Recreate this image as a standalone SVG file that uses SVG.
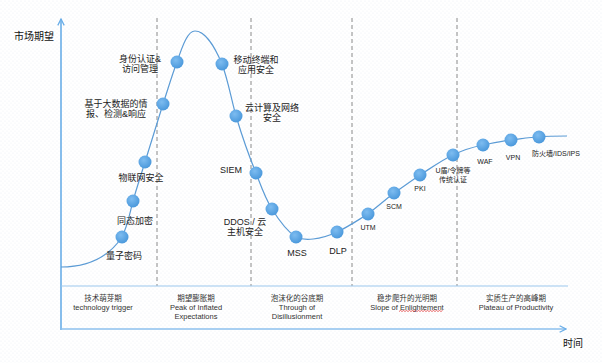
<svg xmlns="http://www.w3.org/2000/svg" width="602" height="363" viewBox="0 0 602 363">
<defs>
<pattern id="dots" width="4" height="4" patternUnits="userSpaceOnUse">
<circle cx="1" cy="1" r="0.5" fill="#e3e9ef"/>
<circle cx="3" cy="3" r="0.5" fill="#e8edf2"/>
</pattern>
<radialGradient id="ball" cx="0.4" cy="0.35" r="0.7">
<stop offset="0" stop-color="#7dbcf0"/>
<stop offset="1" stop-color="#4796da"/>
</radialGradient>
<marker id="chev" viewBox="0 0 10 10" refX="9" refY="5" markerWidth="8" markerHeight="8" orient="auto" markerUnits="userSpaceOnUse">
<path d="M1,1 L9,5 L1,9" fill="none" stroke="#6aaee8" stroke-width="1.6"/>
</marker>
</defs>
<style>
.lbl{font-family:"Liberation Sans","Noto Sans CJK SC",sans-serif;font-size:9px;fill:#222;text-anchor:middle}
.sm{font-size:7px}
.tb{font-family:"Liberation Sans","Noto Sans CJK SC",sans-serif;font-size:7.5px;fill:#333;text-anchor:middle}
.ax{font-family:"Liberation Sans","Noto Sans CJK SC",sans-serif;font-size:10px;fill:#111}
.dash{stroke:#8a8a8a;stroke-width:1;stroke-dasharray:4 3;fill:none}
.pt{fill:url(#ball)}
</style>
<rect width="602" height="363" fill="#ffffff"/>
<rect width="602" height="363" fill="url(#dots)"/>

<g id="phases">
<line class="dash" x1="157" y1="18" x2="157" y2="286"/>
<line class="dash" x1="251" y1="18" x2="251" y2="286"/>
<line class="dash" x1="352" y1="18" x2="352" y2="286"/>
<line class="dash" x1="457" y1="18" x2="457" y2="286"/>
</g>

<g id="axes">
<line x1="61" y1="330" x2="61" y2="19" stroke="#5fa8e6" stroke-width="1.5" marker-end="url(#chev)"/>
<line x1="61" y1="329" x2="566" y2="329" stroke="#8cc0ee" stroke-width="1.6" marker-end="url(#chev)"/>
<line x1="61" y1="286" x2="568" y2="286" stroke="#9cc8ee" stroke-width="1.2"/>
<text class="ax" x="14" y="40">市场期望</text>
<text class="ax" x="563" y="347">时间</text>
</g>

<g id="connectors">
<path d="M61,267 C90,267 110,255 122,237 C128,225 130,212 133,201 C137,187 141,175 145,162 C151,143 157,123 163,104 C168,89 172,75 177,62 C183,44 188,31 195,31 C205,31 215,47 222,64 C228,80 231,98 236,116 C242,136 249,156 256,173 C261,186 265,198 272,209 C280,222 288,232 296,237 C304,241 320,240 337,232 C348,227 358,220 368,214 C377,207 385,200 394,193 C403,187 411,181 420,175 C431,168 442,160 453,155 C463,150 473,147 483,145 C493,143 502,141 511,140 C520,139 530,137 539,137 C548,136 557,136 567,136" fill="none" stroke="#5b9bd5" stroke-width="1.2"/>
</g>

<g id="n-liangzi"><circle class="pt" cx="122" cy="237" r="6.5"/><text class="lbl" x="124" y="259">量子密码</text></g>
<g id="n-tongtai"><circle class="pt" cx="133" cy="201" r="6.5"/><text class="lbl" x="135" y="224">同态加密</text></g>
<g id="n-wulianwang"><circle class="pt" cx="145" cy="162" r="6.5"/><text class="lbl" x="141" y="181">物联网安全</text></g>
<g id="n-dashuju"><circle class="pt" cx="163" cy="104" r="6.5"/><text class="lbl" x="116" y="107">基于大数据的情</text><text class="lbl" x="116" y="117">报、检测&amp;响应</text></g>
<g id="n-shenfen"><circle class="pt" cx="177" cy="62" r="6.5"/><text class="lbl" x="140" y="62">身份认证&amp;</text><text class="lbl" x="140" y="72">访问管理</text></g>
<g id="n-yidong"><circle class="pt" cx="222" cy="64" r="6.5"/><text class="lbl" x="256" y="63">移动终端和</text><text class="lbl" x="256" y="73">应用安全</text></g>
<g id="n-yunjisuan"><circle class="pt" cx="236" cy="116" r="6.5"/><text class="lbl" x="272" y="111">云计算及网络</text><text class="lbl" x="272" y="121">安全</text></g>
<g id="n-siem"><circle class="pt" cx="256" cy="173" r="6.5"/><text class="lbl" x="231" y="173">SIEM</text></g>
<g id="n-ddos"><circle class="pt" cx="272" cy="209" r="6.5"/><text class="lbl" x="245" y="225">DDOS / 云</text><text class="lbl" x="245" y="235">主机安全</text></g>
<g id="n-mss"><circle class="pt" cx="296" cy="237" r="6.5"/><text class="lbl" x="297" y="256">MSS</text></g>
<g id="n-dlp"><circle class="pt" cx="337" cy="232" r="6.5"/><text class="lbl" x="338" y="254">DLP</text></g>
<g id="n-utm"><circle class="pt" cx="368" cy="214" r="6.5"/><text class="lbl sm" x="368" y="230">UTM</text></g>
<g id="n-scm"><circle class="pt" cx="394" cy="193" r="6.5"/><text class="lbl sm" x="394" y="209">SCM</text></g>
<g id="n-pki"><circle class="pt" cx="420" cy="175" r="6.5"/><text class="lbl sm" x="420" y="191">PKI</text></g>
<g id="n-udun"><circle class="pt" cx="453" cy="155" r="6.5"/><text class="lbl sm" x="453" y="173">U盾/令牌等</text><text class="lbl sm" x="453" y="182">传统认证</text></g>
<g id="n-waf"><circle class="pt" cx="483" cy="145" r="6.5"/><text class="lbl sm" x="485" y="164">WAF</text></g>
<g id="n-vpn"><circle class="pt" cx="511" cy="140" r="6.5"/><text class="lbl sm" x="513" y="160">VPN</text></g>
<g id="n-fanghuoqiang"><circle class="pt" cx="539" cy="137" r="6.5"/><text class="lbl sm" x="556" y="156">防火墙/IDS/IPS</text></g>

<g id="table">
<text class="tb" x="103" y="300.5">技术萌芽期</text>
<text class="tb" x="103" y="309.5">technology trigger</text>
<text class="tb" x="196" y="300.5">期望膨胀期</text>
<text class="tb" x="196" y="309.5">Peak of Inflated</text>
<text class="tb" x="196" y="318.5">Expectations</text>
<text class="tb" x="297" y="300.5">泡沫化的谷底期</text>
<text class="tb" x="297" y="309.5">Through of</text>
<text class="tb" x="297" y="318.5">Disillusionment</text>
<text class="tb" x="407" y="300.5">稳步爬升的光明期</text>
<text class="tb" x="407" y="309.5">Slope of Enlightement</text>
<path d="M399,311.5 l1.5,-1 l1.5,1 l1.5,-1 l1.5,1 l1.5,-1 l1.5,1 l1.5,-1 l1.5,1 l1.5,-1 l1.5,1 l1.5,-1 l1.5,1 l1.5,-1 l1.5,1 l1.5,-1 l1.5,1 l1.5,-1 l1.5,1 l1.5,-1 l1.5,1 l1.5,-1 l1.5,1 l1.5,-1 l1.5,1 l1.5,-1 l1.5,1 l1.5,-1 l1.5,1 l1.5,-1" fill="none" stroke="#e03030" stroke-width="0.7"/>
<text class="tb" x="516" y="300.5">实质生产的高峰期</text>
<text class="tb" x="516" y="309.5">Plateau of Productivity</text>
</g>
</svg>
